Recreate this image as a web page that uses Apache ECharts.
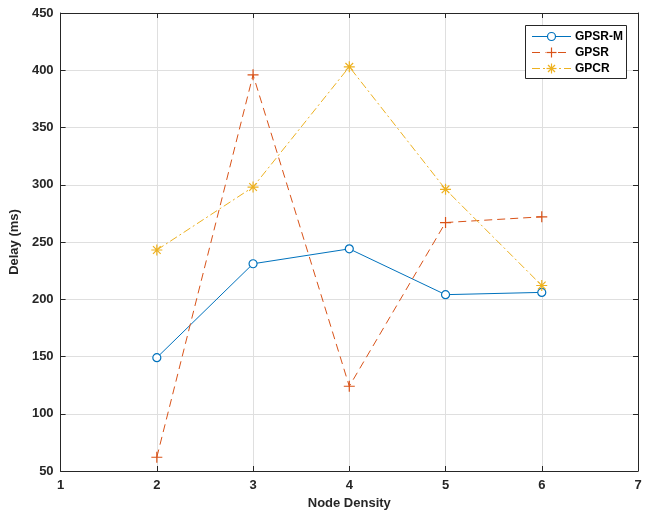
<!DOCTYPE html>
<html>
<head>
<meta charset="utf-8">
<script src="https://cdn.jsdelivr.net/npm/echarts@6/dist/echarts.min.js"></script>
<style>html,body{margin:0;padding:0;background:#fff;}#c{width:651px;height:517px;}</style>
</head>
<body>
<div id="c"></div>
<script>
const xValues = [2, 3, 4, 5, 6];
const gpsrM = [149, 231, 244, 204, 206];
const gpsr = [62, 396, 124, 267, 272];
const gpcr = [243, 298, 403, 296, 212];
const seriesNames = ['GPSR-M', 'GPSR', 'GPCR'];
const xTitle = 'Node Density';
const yTitle = 'Delay (ms)';

const pair = (ys) => xValues.map((x, i) => [x, ys[i]]);
const font = 'Arial, "Liberation Sans", Helvetica, sans-serif';
const axisCol = '#262626';
const colors = ['#0072BD', '#D95319', '#EDB120'];
const dashes = [null, [8, 5], [8, 3, 2, 3]];
const plusPath = 'path://M0,-1L0,1M-1,0L1,0';
const starPath = 'path://M0,-1L0,1M-1,0L1,0M-0.7,-0.7L0.7,0.7M-0.7,0.7L0.7,-0.7';

// legend (drawn as graphic)
const lg = {x: 525.5, y: 25.5, w: 101, h: 53, rowY: [36, 52, 68], lx1: 532, lx2: 571, tx: 575};
const legendEls = [{
  type: 'rect', z: 100, shape: {x: lg.x, y: lg.y, width: lg.w, height: lg.h},
  style: {fill: '#fff', stroke: axisCol, lineWidth: 1}
}];
seriesNames.forEach((name, i) => {
  const cy = lg.rowY[i] + 0.5;
  const cx = (lg.lx1 + lg.lx2) / 2;
  legendEls.push({
    type: 'line', z: 101, shape: {x1: lg.lx1, y1: cy, x2: lg.lx2, y2: cy},
    style: {stroke: colors[i], lineWidth: 1, lineDash: dashes[i] || null}
  });
  if (i === 0) {
    legendEls.push({type: 'circle', z: 102, shape: {cx: cx, cy: cy, r: 4},
      style: {fill: '#fff', stroke: colors[i], lineWidth: 1.2}});
  } else {
    const r = 5;
    const segs = [[0, -r, 0, r], [-r, 0, r, 0]];
    if (i === 2) { const d = r * 0.7; segs.push([-d, -d, d, d], [-d, d, d, -d]); }
    legendEls.push({type: 'rect', z: 101, shape: {x: cx - 6, y: cy - 6, width: 12, height: 12}, style: {fill: '#fff'}});
    segs.forEach(s => legendEls.push({type: 'line', z: 102,
      shape: {x1: cx + s[0], y1: cy + s[1], x2: cx + s[2], y2: cy + s[3]},
      style: {stroke: colors[i], lineWidth: 1.2}}));
  }
  legendEls.push({type: 'text', z: 102,
    style: {text: name, x: lg.tx, y: cy, font: 'bold 12px ' + font, fill: '#000', verticalAlign: 'middle', align: 'left'}});
});

const chart = echarts.init(document.getElementById('c'), null, {renderer: 'canvas'});
const baseX = {
  type: 'value', min: 1, max: 7, interval: 1,
  axisLine: {show: true, onZero: false, lineStyle: {color: axisCol, width: 1}},
  axisTick: {show: true, inside: true, length: 5, lineStyle: {color: axisCol}},
};
const baseY = {
  type: 'value', min: 50, max: 450, interval: 50,
  axisLine: {show: true, onZero: false, lineStyle: {color: axisCol, width: 1}},
  axisTick: {show: true, inside: true, length: 5, lineStyle: {color: axisCol}},
};
chart.setOption({
  animation: false,
  backgroundColor: '#fff',
  grid: {left: 58, right: 13, top: 13, bottom: 46, containLabel: false},
  xAxis: [
    Object.assign({}, baseX, {
      position: 'bottom',
      name: xTitle, nameLocation: 'middle', nameGap: 26,
      nameTextStyle: {fontFamily: font, fontWeight: 'bold', fontSize: 13, color: axisCol},
      axisLabel: {fontFamily: font, fontWeight: 'bold', fontSize: 13, color: axisCol, margin: 8},
      splitLine: {show: true, lineStyle: {color: '#dfdfdf', width: 1}}
    }),
    Object.assign({}, baseX, {
      position: 'top', axisLabel: {show: false}, splitLine: {show: false}
    })
  ],
  yAxis: [
    Object.assign({}, baseY, {
      position: 'left',
      name: yTitle, nameLocation: 'middle', nameGap: 32,
      nameTextStyle: {fontFamily: font, fontWeight: 'bold', fontSize: 13, color: axisCol},
      axisLabel: {fontFamily: font, fontWeight: 'bold', fontSize: 13, color: axisCol, margin: 7},
      splitLine: {show: true, lineStyle: {color: '#dfdfdf', width: 1}}
    }),
    Object.assign({}, baseY, {
      position: 'right', axisLabel: {show: false}, splitLine: {show: false}
    })
  ],
  graphic: {elements: legendEls},
  series: [
    {
      name: seriesNames[0], type: 'line', data: pair(gpsrM),
      symbol: 'circle', symbolSize: 8, showAllSymbol: true,
      lineStyle: {color: colors[0], width: 1},
      itemStyle: {color: '#fff', borderColor: colors[0], borderWidth: 1.2}
    },
    {
      name: seriesNames[1], type: 'line', data: pair(gpsr),
      symbol: plusPath, symbolSize: 11,
      lineStyle: {color: colors[1], width: 1, type: dashes[1]},
      itemStyle: {color: 'none', borderColor: colors[1], borderWidth: 1.2}
    },
    {
      name: seriesNames[2], type: 'line', data: pair(gpcr),
      symbol: starPath, symbolSize: 11,
      lineStyle: {color: colors[2], width: 1, type: dashes[2]},
      itemStyle: {color: 'none', borderColor: colors[2], borderWidth: 1.2}
    }
  ]
});
</script>
</body>
</html>
